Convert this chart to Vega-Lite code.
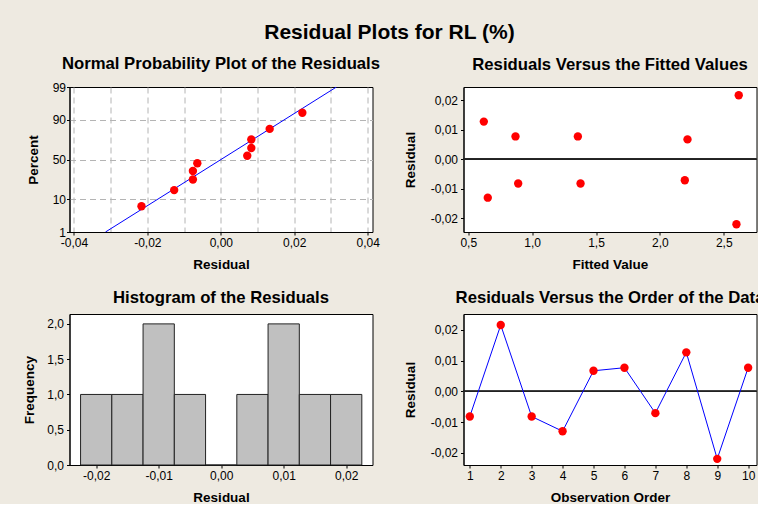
{
  "$schema": "https://vega.github.io/schema/vega-lite/v6.json",
  "background": "#EEEAE1",
  "padding": {"left": 21.5, "top": 21, "right": 0, "bottom": 0},
  "title": {"text": "Residual Plots for RL (%)", "fontSize": 21, "anchor": "middle", "frame": "bounds", "offset": 13, "dx": -4},
  "datasets": {
    "npp_pts": [
      {"residual": -0.0216, "percent": 6.7},
      {"residual": -0.0127, "percent": 16.3},
      {"residual": -0.0076, "percent": 26.0},
      {"residual": -0.0076, "percent": 35.6},
      {"residual": -0.0064, "percent": 45.2},
      {"residual": 0.0072, "percent": 54.8},
      {"residual": 0.0083, "percent": 64.4},
      {"residual": 0.0083, "percent": 74.0},
      {"residual": 0.0133, "percent": 83.7},
      {"residual": 0.0222, "percent": 93.3}
    ],
    "npp_fit": [
      {"residual": -0.0314, "percent": 1},
      {"residual": 0.0315, "percent": 99}
    ],
    "resid": [
      {"order": 1, "fitted": 0.891, "residual": -0.0082},
      {"order": 2, "fitted": 2.617, "residual": 0.0216},
      {"order": 3, "fitted": 1.379, "residual": -0.0082},
      {"order": 4, "fitted": 0.653, "residual": -0.0130},
      {"order": 5, "fitted": 2.216, "residual": 0.0067},
      {"order": 6, "fitted": 0.870, "residual": 0.0077},
      {"order": 7, "fitted": 2.195, "residual": -0.0071},
      {"order": 8, "fitted": 0.622, "residual": 0.0127},
      {"order": 9, "fitted": 2.599, "residual": -0.0220},
      {"order": 10, "fitted": 1.358, "residual": 0.0077}
    ],
    "hist": [
      {"bin_start": -0.0225, "bin_end": -0.0175, "count": 1},
      {"bin_start": -0.0175, "bin_end": -0.0125, "count": 1},
      {"bin_start": -0.0125, "bin_end": -0.0075, "count": 2},
      {"bin_start": -0.0075, "bin_end": -0.0025, "count": 1},
      {"bin_start": -0.0025, "bin_end": 0.0025, "count": 0},
      {"bin_start": 0.0025, "bin_end": 0.0075, "count": 1},
      {"bin_start": 0.0075, "bin_end": 0.0125, "count": 2},
      {"bin_start": 0.0125, "bin_end": 0.0175, "count": 1},
      {"bin_start": 0.0175, "bin_end": 0.0225, "count": 1}
    ]
  },
  "columns": 2,
  "bounds": "flush",
  "spacing": {"row": 82, "column": 91},
  "concat": [
    {
      "width": 303,
      "height": 145,
      "title": {"text": "Normal Probability Plot of the Residuals", "offset": 8},
      "layer": [
        {
          "data": {"name": "npp_fit"},
          "transform": [{"calculate": "quantileNormal(datum.percent / 100)", "as": "z"}],
          "mark": {"type": "line", "color": "#0000FF", "strokeWidth": 1, "clip": true},
          "encoding": {
            "x": {
              "field": "residual", "type": "quantitative", "title": "Residual",
              "scale": {"domain": [-0.0412, 0.0413], "nice": false, "zero": false},
              "axis": {
                "values": [-0.04, -0.03, -0.02, -0.01, 0, 0.01, 0.02, 0.03, 0.04],
                "tickCount": 100,
                "format": ".2f",
                "labelExpr": "round(datum.value * 100) % 2 === 0 ? datum.label : ''",
                "tickOpacity": {"condition": {"test": "round(datum.value * 100) % 2 !== 0", "value": 0}, "value": 1},
                "grid": true, "gridDash": [6, 4], "gridColor": "#B4B4B4",
                "titleY": 36, "titleBaseline": "alphabetic"
              }
            },
            "y": {
              "field": "z", "type": "quantitative", "title": "Percent",
              "scale": {"domain": [-2.3263, 2.3263], "nice": false, "zero": false},
              "axis": {
                "values": [-2.3263, -1.2816, 0, 1.2816, 2.3263],
                "tickCount": 100,
                "labelExpr": "datum.value < -2 ? '1' : datum.value < -1 ? '10' : datum.value < 1 ? '50' : datum.value < 2 ? '90' : '99'",
                "grid": true, "gridDash": [6, 4], "gridColor": "#B4B4B4",
                "gridOpacity": {"condition": {"test": "abs(datum.value) > 2", "value": 0}, "value": 1},
                "labelPadding": 1, "titleX": -32, "titleBaseline": "alphabetic", "titleAngle": 270
              }
            }
          }
        },
        {
          "data": {"name": "npp_pts"},
          "transform": [{"calculate": "quantileNormal(datum.percent / 100)", "as": "z"}],
          "mark": {"type": "circle", "color": "#FF0000", "size": 70, "opacity": 1},
          "encoding": {
            "x": {"field": "residual", "type": "quantitative", "title": "Residual"},
            "y": {"field": "z", "type": "quantitative", "title": "Percent"}
          }
        }
      ]
    },
    {
      "width": 293,
      "height": 145,
      "title": {"text": "Residuals Versus the Fitted Values", "offset": 13.5},
      "data": {"name": "resid"},
      "layer": [
        {
          "mark": {"type": "rule", "color": "#222222", "strokeWidth": 1},
          "encoding": {"y": {"datum": 0}}
        },
        {
          "mark": {"type": "circle", "color": "#FF0000", "size": 70, "opacity": 1},
          "encoding": {
            "x": {
              "field": "fitted", "type": "quantitative", "title": "Fitted Value",
              "scale": {"domain": [0.463, 2.756], "nice": false, "zero": false},
              "axis": {"values": [0.5, 1, 1.5, 2, 2.5], "tickCount": 100, "format": ".1f", "titleY": 36, "titleBaseline": "alphabetic"}
            },
            "y": {
              "field": "residual", "type": "quantitative", "title": "Residual",
              "scale": {"domain": [-0.0246, 0.0244], "nice": false, "zero": false},
              "axis": {"values": [-0.02, -0.01, 0, 0.01, 0.02], "tickCount": 100, "format": ".2f", "labelPadding": 3, "titleX": -49, "titleBaseline": "alphabetic", "titleAngle": 270}
            }
          }
        }
      ]
    },
    {
      "width": 303,
      "height": 151,
      "title": {"text": "Histogram of the Residuals", "offset": 7},
      "data": {"name": "hist"},
      "mark": {"type": "bar", "fill": "#C0C0C0", "stroke": "#222222", "strokeWidth": 1},
      "encoding": {
        "x": {
          "field": "bin_start", "type": "quantitative", "title": "Residual",
          "scale": {"domain": [-0.02427, 0.02421], "nice": false, "zero": false},
          "axis": {"values": [-0.02, -0.01, 0, 0.01, 0.02], "tickCount": 100, "format": ".2f", "titleY": 36, "titleBaseline": "alphabetic"}
        },
        "x2": {"field": "bin_end"},
        "y": {
          "field": "count", "type": "quantitative", "title": "Frequency",
          "scale": {"domain": [0, 2.14], "nice": false, "zero": false},
          "axis": {"values": [0, 0.5, 1, 1.5, 2], "tickCount": 100, "format": ".1f", "labelPadding": 3, "titleX": -36, "titleBaseline": "alphabetic", "titleAngle": 270}
        },
        "y2": {"datum": 0}
      }
    },
    {
      "width": 293,
      "height": 151,
      "title": {"text": "Residuals Versus the Order of the Data", "offset": 7},
      "data": {"name": "resid"},
      "layer": [
        {
          "mark": {"type": "rule", "color": "#222222", "strokeWidth": 1},
          "encoding": {"y": {"datum": 0}}
        },
        {
          "mark": {"type": "line", "color": "#0000FF", "strokeWidth": 1},
          "encoding": {
            "x": {
              "field": "order", "type": "quantitative", "title": "Observation Order",
              "scale": {"domain": [0.796, 10.27], "nice": false, "zero": false},
              "axis": {"values": [1, 2, 3, 4, 5, 6, 7, 8, 9, 10], "tickCount": 100, "format": "d", "titleY": 36, "titleBaseline": "alphabetic"}
            },
            "y": {
              "field": "residual", "type": "quantitative", "title": "Residual",
              "scale": {"domain": [-0.024, 0.0252], "nice": false, "zero": false},
              "axis": {"values": [-0.02, -0.01, 0, 0.01, 0.02], "tickCount": 100, "format": ".2f", "labelPadding": 3, "titleX": -49, "titleBaseline": "alphabetic", "titleAngle": 270}
            }
          }
        },
        {
          "mark": {"type": "circle", "color": "#FF0000", "size": 70, "opacity": 1},
          "encoding": {
            "x": {"field": "order", "type": "quantitative", "title": "Observation Order"},
            "y": {"field": "residual", "type": "quantitative", "title": "Residual"}
          }
        }
      ]
    }
  ],
  "config": {
    "font": "Liberation Sans",
    "locale": {"number": {"decimal": ",", "thousands": ".", "grouping": [3], "currency": ["", ""], "minus": "-"}},
    "view": {"stroke": "#000000", "strokeWidth": 1, "fill": "#FFFFFF"},
    "axis": {
      "labelFont": "Liberation Sans", "labelFontSize": 12, "labelColor": "#000000",
      "titleFont": "Liberation Sans", "titleFontSize": 13.5, "titleFontWeight": "bold", "titleColor": "#000000",
      "domainColor": "#000000", "tickColor": "#000000", "tickSize": 3, "labelPadding": 2,
      "grid": false, "labelFlush": false, "labelOverlap": false
    },
    "title": {"font": "Liberation Sans", "fontSize": 16.7, "fontWeight": "bold", "color": "#000000", "anchor": "middle"}
  }
}
